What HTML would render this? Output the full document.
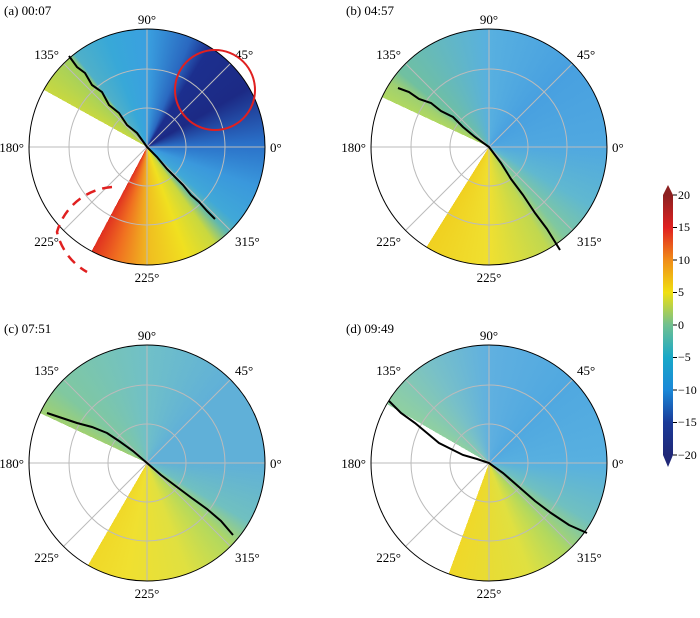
<!DOCTYPE html>
<html><head><meta charset="utf-8"><style>
body{margin:0;background:#fff;width:700px;height:618px;position:relative;overflow:hidden;font-family:"Liberation Serif",serif}
.p{position:absolute;width:236px;height:236px;border-radius:50%}
svg{position:absolute;left:0;top:0}
</style></head><body>
<div class="p" style="left:29px;top:29px;background:conic-gradient(#3aa0e0 0deg,#2a68c0 22deg,#1c2f8e 32deg,#1c2a85 60deg,#2a70c8 88deg,#3a98dc 110deg,#40a8d8 130deg,#60b8b0 137deg,#c8d840 145deg,#f0e020 160deg,#f0c020 178deg,#f07020 195deg,#e03020 208deg,#fff 208deg,#fff 299deg,#c8d840 299deg,#a0d060 319deg,#50b0c8 322deg,#38a8d8 340deg,#3aa0e0 360deg)"></div>
<div class="p" style="left:371px;top:29px;background:conic-gradient(#58b0e0 0deg,#48a0e0 45deg,#50a8e0 90deg,#60b8d0 120deg,#80c8a0 140deg,#c0d850 150deg,#f0e030 180deg,#f0d020 212deg,#fff 212deg,#fff 295deg,#b0d860 295deg,#a0d070 303deg,#70c0a0 310deg,#58b0e0 360deg)"></div>
<div class="p" style="left:29px;top:345px;background:conic-gradient(#70c0c8 0deg,#60b0d8 45deg,#60b0d8 90deg,#70c0c0 120deg,#b0d860 135deg,#e0e040 160deg,#f0e030 190deg,#f0d828 210deg,#fff 210deg,#fff 295deg,#a0d070 295deg,#80c8a0 310deg,#70c0c8 360deg)"></div>
<div class="p" style="left:371px;top:345px;background:conic-gradient(#60b0e0 0deg,#50a8e0 45deg,#58b0e0 90deg,#70c0c0 120deg,#b0d860 140deg,#e0e040 160deg,#f0d828 200deg,#f0d828 200deg,#fff 200deg,#fff 300deg,#90d0a0 300deg,#78c0c8 330deg,#60b0e0 360deg)"></div>
<svg width="700" height="618" viewBox="0 0 700 618" font-family="Liberation Serif, serif" font-size="13">
<defs>
<g id="grid" fill="none">
<circle r="39" stroke="#bbb" stroke-width="1"/>
<circle r="78" stroke="#bbb" stroke-width="1"/>
<line x1="-118" y1="0" x2="118" y2="0" stroke="#bbb"/>
<line x1="0" y1="-118" x2="0" y2="118" stroke="#bbb"/>
<line x1="-83.4" y1="-83.4" x2="83.4" y2="83.4" stroke="#bbb"/>
<line x1="-83.4" y1="83.4" x2="83.4" y2="-83.4" stroke="#bbb"/>
<circle r="118" stroke="#000" stroke-width="1"/>
</g>
<g id="lab" fill="#000">
<text x="0" y="-123" text-anchor="middle">90°</text>
<text x="88" y="-88">45°</text>
<text x="-88" y="-88" text-anchor="end">135°</text>
<text x="-123" y="5" text-anchor="end">180°</text>
<text x="123" y="5">0°</text>
<text x="-88" y="99" text-anchor="end">225°</text>
<text x="88" y="99">315°</text>
<text x="0" y="135" text-anchor="middle">225°</text>
</g>
</defs>
<g transform="translate(147,147)"><use href="#grid"/><use href="#lab"/>
<polyline fill="none" stroke="#000" stroke-width="2" points="-78,-91 -70,-80 -62,-74 -55,-62 -45,-55 -38,-42 -28,-34 -20,-22 -10,-14 0,0 10,10 20,22 28,30 36,38 44,48 52,55 60,64 68,72"/>
<circle cx="68" cy="-57" r="40" fill="none" stroke="#e02020" stroke-width="2"/>
<path d="M-35,40 A62,62 0 0 0 -90,85 A62,62 0 0 0 -60,125" fill="none" stroke="#e02020" stroke-width="2.5" stroke-dasharray="10,7"/>
</g>
<g transform="translate(489,147)"><use href="#grid"/><use href="#lab"/>
<polyline fill="none" stroke="#000" stroke-width="2" points="-91,-59 -80,-55 -70,-48 -58,-44 -48,-36 -36,-30 -26,-20 -14,-10 0,0 12,16 22,32 34,48 46,66 58,82 71,103"/>
</g>
<g transform="translate(147,463)"><use href="#grid"/><use href="#lab"/>
<polyline fill="none" stroke="#000" stroke-width="2" points="-100,-50 -85,-45 -70,-40 -55,-36 -40,-30 -28,-22 -14,-12 0,0 14,12 30,24 46,36 60,46 74,58 86,72"/>
</g>
<g transform="translate(489,463)"><use href="#grid"/><use href="#lab"/>
<polyline fill="none" stroke="#000" stroke-width="2" points="-100,-62 -88,-50 -74,-40 -62,-30 -50,-20 -38,-14 -26,-8 -12,-4 0,0 14,10 30,24 46,38 62,50 80,62 98,70"/>
</g>
<text x="4" y="15">(a)  00:07</text>
<text x="346" y="15">(b)  04:57</text>
<text x="4" y="333">(c)  07:51</text>
<text x="346" y="333">(d)  09:49</text>
<defs><linearGradient id="cb" x1="0" y1="0" x2="0" y2="1">
<stop offset="0" stop-color="#8c2020"/><stop offset="0.125" stop-color="#e02020"/><stop offset="0.25" stop-color="#f08c18"/><stop offset="0.375" stop-color="#f0e010"/><stop offset="0.5" stop-color="#70c090"/><stop offset="0.625" stop-color="#18a8c8"/><stop offset="0.75" stop-color="#1a88d8"/><stop offset="0.875" stop-color="#1a3a98"/><stop offset="1" stop-color="#202878"/>
</linearGradient></defs>
<polygon points="663,195 668,185 673,195" fill="#8c2020"/>
<rect x="663" y="195" width="10" height="260" fill="url(#cb)"/>
<polygon points="663,455 668,467 673,455" fill="#202878"/>
<g stroke="#000"><line x1="673" y1="195" x2="677" y2="195"/><line x1="673" y1="227.5" x2="677" y2="227.5"/><line x1="673" y1="260" x2="677" y2="260"/><line x1="673" y1="292.5" x2="677" y2="292.5"/><line x1="673" y1="325" x2="677" y2="325"/><line x1="673" y1="357.5" x2="677" y2="357.5"/><line x1="673" y1="390" x2="677" y2="390"/><line x1="673" y1="422.5" x2="677" y2="422.5"/><line x1="673" y1="455" x2="677" y2="455"/></g>
<g font-size="12"><text x="678" y="199">20</text><text x="678" y="231">15</text><text x="678" y="264">10</text><text x="678" y="296">5</text><text x="678" y="329">0</text><text x="678" y="361">−5</text><text x="678" y="394">−10</text><text x="678" y="426">−15</text><text x="678" y="459">−20</text></g>
</svg>
</body></html>
